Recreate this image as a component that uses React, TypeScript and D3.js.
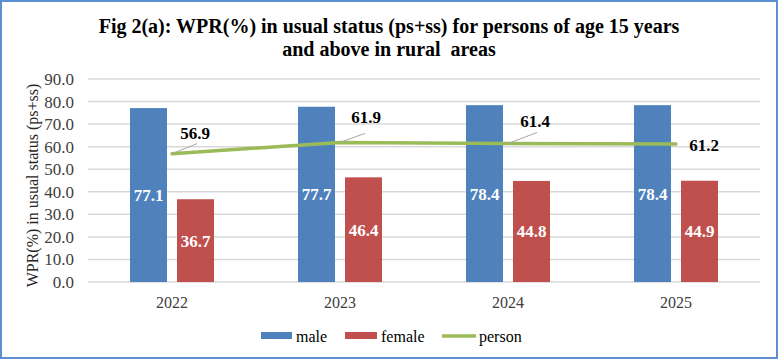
import React from "react";
import * as d3 from "d3";

const years = ["2022", "2023", "2024", "2025"];
const male = [77.1, 77.7, 78.4, 78.4];
const female = [36.7, 46.4, 44.8, 44.9];
const person = [56.9, 61.9, 61.4, 61.2];
const yTicks = [0, 10, 20, 30, 40, 50, 60, 70, 80, 90];
const titleLines = [
  "Fig 2(a): WPR(%) in usual status (ps+ss) for persons of age 15 years",
  "and above in rural  areas",
];
const yLabel = "WPR(%) in usual status (ps+ss)";
const legendItems = ["male", "female", "person"];

// label placement for person values (offsets in px from point)
const personLabelOffsets = [
  { dx: 23, dy: -21, lx: 25, ly: -10 },
  { dx: 26, dy: -25, lx: 25, ly: -9 },
  { dx: 27, dy: -22, lx: 29, ly: -11 },
  { dx: 28, dy: 1, lx: 0, ly: 0 },
];

const COLORS = { male: "#4F81BD", female: "#C0504D", person: "#9BBB59" };
const W = 779;
const H = 360;
const plot = { left: 88, right: 760, top: 79, bottom: 282 };
const SERIF = '"Times New Roman", "Liberation Serif", "DejaVu Serif", serif';

export default function App() {
  const x = d3.scaleBand().domain(years).range([plot.left, plot.right]);
  const y = d3.scaleLinear().domain([0, 90]).range([plot.bottom, plot.top]);
  const bw = 37;
  const gap = 10;
  const cx = (yr: string) => (x(yr) as number) + x.bandwidth() / 2;
  const line = d3
    .line<number>()
    .x((_, i) => cx(years[i]))
    .y((d) => y(d));
  const ts = { fontFamily: SERIF };

  return (
    <svg
      width={W}
      height={H}
      style={{ position: "absolute", left: 0, top: 0, background: "#fff", fontFamily: SERIF }}
    >
      <rect x={1} y={1} width={W - 3} height={H - 3} fill="#fff" stroke="#5B8FD0" strokeWidth={2} />
      {titleLines.map((t, i) => (
        <text
          key={i}
          x={389}
          y={33 + i * 23}
          textAnchor="middle"
          fontWeight="bold"
          fontSize={20}
          fill="#000"
          style={{ ...ts, whiteSpace: "pre" }}
        >
          {t}
        </text>
      ))}
      {yTicks.map((t) => (
        <g key={t}>
          <line x1={plot.left} x2={plot.right} y1={y(t)} y2={y(t)} stroke="#D9D9D9" strokeWidth={1.5} />
          <text x={74} y={y(t)} dy="0.35em" textAnchor="end" fontSize={17} fill="#404040" style={ts}>
            {t.toFixed(1)}
          </text>
        </g>
      ))}
      <text
        transform={`translate(32,${(plot.top + plot.bottom) / 2 + 5}) rotate(-90)`}
        textAnchor="middle"
        fontSize={16}
        fill="#262626"
        dy="0.35em"
        style={ts}
      >
        {yLabel}
      </text>
      {years.map((yr, i) => {
        const c = cx(yr);
        const mx = c - gap / 2 - bw;
        const fx = c + gap / 2;
        return (
          <g key={yr}>
            <rect x={mx} y={y(male[i])} width={bw} height={y(0) - y(male[i])} fill={COLORS.male} />
            <rect x={fx} y={y(female[i])} width={bw} height={y(0) - y(female[i])} fill={COLORS.female} />
            <text x={mx + bw / 2} y={(y(male[i]) + y(0)) / 2} dy="0.35em" textAnchor="middle" fontWeight="bold" fontSize={17} fill="#fff" style={ts}>
              {male[i].toFixed(1)}
            </text>
            <text x={fx + bw / 2} y={(y(female[i]) + y(0)) / 2} dy="0.35em" textAnchor="middle" fontWeight="bold" fontSize={17} fill="#fff" style={ts}>
              {female[i].toFixed(1)}
            </text>
            <text x={c} y={302} dy="0.35em" textAnchor="middle" fontSize={16} fill="#404040" style={ts}>
              {yr}
            </text>
          </g>
        );
      })}
      <path d={line(person) || ""} fill="none" stroke={COLORS.person} strokeWidth={3.5} strokeLinecap="round" />
      {person.map((v, i) => {
        const px = cx(years[i]);
        const py = y(v);
        const o = personLabelOffsets[i];
        return (
          <g key={i}>
            {(o.lx !== 0 || o.ly !== 0) && (
              <line x1={px} y1={py} x2={px + o.lx} y2={py + o.ly} stroke="#A6A6A6" strokeWidth={1} />
            )}
            <text x={px + o.dx} y={py + o.dy} dy="0.35em" textAnchor="middle" fontWeight="bold" fontSize={17} fill="#000" style={ts}>
              {v.toFixed(1)}
            </text>
          </g>
        );
      })}
      {/* legend */}
      <g>
        <rect x={261} y={332} width={31} height={7} fill={COLORS.male} />
        <text x={296} y={336} dy="0.35em" fontSize={16} fill="#000" style={ts}>{legendItems[0]}</text>
        <rect x={345} y={332} width={32} height={7} fill={COLORS.female} />
        <text x={381} y={336} dy="0.35em" fontSize={16} fill="#000" style={ts}>{legendItems[1]}</text>
        <line x1={442} x2={476} y1={336} y2={336} stroke={COLORS.person} strokeWidth={3.5} />
        <text x={479} y={336} dy="0.35em" fontSize={16} fill="#000" style={ts}>{legendItems[2]}</text>
      </g>
    </svg>
  );
}
